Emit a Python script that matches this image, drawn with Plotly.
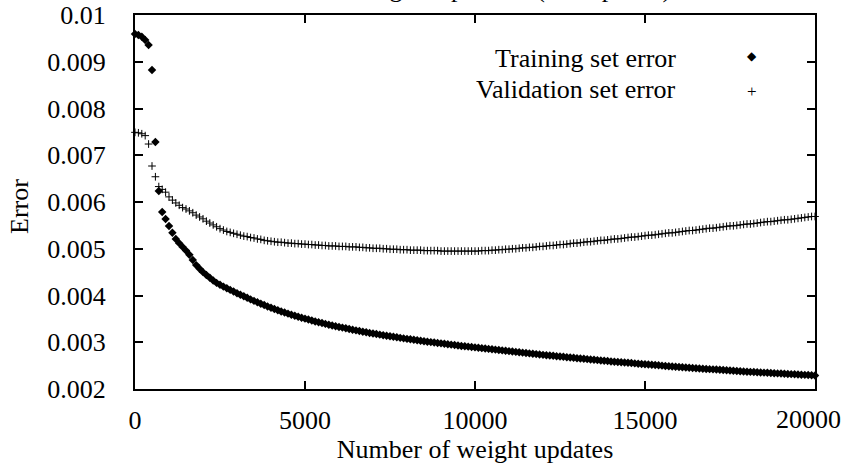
import plotly.graph_objects as go

# ---- data ----
updates = list(range(0, 20001, 100))

training_error = [
    0.009594, 0.009572, 0.009536, 0.009465, 0.009358, 0.008824, 0.007283, 0.006235, 0.005786, 0.005636,
    0.005487, 0.005344, 0.005209, 0.005120, 0.005040, 0.004960, 0.004870, 0.004760, 0.004650, 0.004570,
    0.004500, 0.004440, 0.004380, 0.004320, 0.004270, 0.004230, 0.004190, 0.004155, 0.004120, 0.004085,
    0.004050, 0.004015, 0.003983, 0.003950, 0.003917, 0.003885, 0.003855, 0.003825, 0.003795, 0.003765,
    0.003737, 0.003710, 0.003683, 0.003658, 0.003635, 0.003612, 0.003590, 0.003568, 0.003547, 0.003526,
    0.003505, 0.003485, 0.003465, 0.003446, 0.003428, 0.003410, 0.003393, 0.003376, 0.003360, 0.003344,
    0.003328, 0.003313, 0.003298, 0.003283, 0.003268, 0.003254, 0.003240, 0.003226, 0.003213, 0.003200,
    0.003187, 0.003175, 0.003163, 0.003151, 0.003139, 0.003127, 0.003116, 0.003105, 0.003094, 0.003083,
    0.003072, 0.003062, 0.003052, 0.003042, 0.003032, 0.003022, 0.003012, 0.003003, 0.002994, 0.002985,
    0.002976, 0.002967, 0.002958, 0.002949, 0.002940, 0.002931, 0.002922, 0.002914, 0.002906, 0.002898,
    0.002890, 0.002882, 0.002874, 0.002866, 0.002858, 0.002850, 0.002842, 0.002834, 0.002826, 0.002818,
    0.002810, 0.002802, 0.002794, 0.002786, 0.002778, 0.002770, 0.002762, 0.002754, 0.002746, 0.002738,
    0.002730, 0.002723, 0.002716, 0.002709, 0.002702, 0.002695, 0.002688, 0.002681, 0.002674, 0.002667,
    0.002660, 0.002653, 0.002646, 0.002639, 0.002632, 0.002625, 0.002618, 0.002611, 0.002604, 0.002597,
    0.002590, 0.002584, 0.002578, 0.002572, 0.002566, 0.002560, 0.002554, 0.002548, 0.002542, 0.002536,
    0.002530, 0.002524, 0.002518, 0.002512, 0.002506, 0.002500, 0.002494, 0.002488, 0.002482, 0.002476,
    0.002470, 0.002465, 0.002460, 0.002455, 0.002450, 0.002445, 0.002440, 0.002435, 0.002430, 0.002425,
    0.002420, 0.002415, 0.002410, 0.002405, 0.002400, 0.002395, 0.002390, 0.002385, 0.002380, 0.002375,
    0.002370, 0.002366, 0.002362, 0.002358, 0.002354, 0.002350, 0.002346, 0.002342, 0.002338, 0.002334,
    0.002330, 0.002326, 0.002322, 0.002318, 0.002314, 0.002310, 0.002306, 0.002302, 0.002298, 0.002294,
    0.002290,
]

validation_error = [
    0.00749, 0.00748, 0.00746, 0.00742, 0.00724, 0.00677, 0.00654, 0.00633, 0.00627, 0.00621,
    0.00611, 0.00604, 0.00598, 0.00593, 0.00588, 0.00585, 0.00581, 0.00577, 0.00572, 0.00568,
    0.00564, 0.00559, 0.00555, 0.00551, 0.00547, 0.00543, 0.00540, 0.00537, 0.00535, 0.00533,
    0.00531, 0.00529, 0.00527, 0.00526, 0.00524, 0.00523, 0.00521, 0.00520, 0.00518, 0.00517,
    0.00516, 0.00515, 0.00514, 0.00514, 0.00513, 0.00512, 0.00512, 0.00511, 0.00511, 0.00510,
    0.00510, 0.00509, 0.00509, 0.00508, 0.00508, 0.00507, 0.00507, 0.00506, 0.00506, 0.00506,
    0.00505, 0.00505, 0.00505, 0.00504, 0.00504, 0.00504, 0.00503, 0.00503, 0.00502, 0.00502,
    0.00501, 0.00501, 0.00501, 0.00500, 0.00500, 0.00499, 0.00499, 0.00499, 0.00498, 0.00498,
    0.00498, 0.00497, 0.00497, 0.00497, 0.00497, 0.00496, 0.00496, 0.00496, 0.00496, 0.00496,
    0.00495, 0.00495, 0.00495, 0.00495, 0.00495, 0.00495, 0.00495, 0.00495, 0.00495, 0.00495,
    0.00495, 0.00495, 0.00496, 0.00496, 0.00496, 0.00497, 0.00497, 0.00498, 0.00498, 0.00499,
    0.00499, 0.00500, 0.00500, 0.00501, 0.00502, 0.00502, 0.00503, 0.00503, 0.00504, 0.00505,
    0.00505, 0.00506, 0.00507, 0.00507, 0.00508, 0.00509, 0.00509, 0.00510, 0.00511, 0.00512,
    0.00512, 0.00513, 0.00514, 0.00515, 0.00515, 0.00516, 0.00517, 0.00518, 0.00518, 0.00519,
    0.00520, 0.00521, 0.00521, 0.00522, 0.00523, 0.00524, 0.00525, 0.00525, 0.00526, 0.00527,
    0.00528, 0.00529, 0.00529, 0.00530, 0.00531, 0.00532, 0.00533, 0.00534, 0.00534, 0.00535,
    0.00536, 0.00537, 0.00538, 0.00539, 0.00539, 0.00540, 0.00541, 0.00542, 0.00543, 0.00544,
    0.00544, 0.00545, 0.00546, 0.00547, 0.00548, 0.00549, 0.00549, 0.00550, 0.00551, 0.00552,
    0.00553, 0.00553, 0.00554, 0.00555, 0.00556, 0.00557, 0.00558, 0.00558, 0.00559, 0.00560,
    0.00561, 0.00562, 0.00562, 0.00563, 0.00564, 0.00565, 0.00566, 0.00567, 0.00568, 0.00569,
    0.00569,
]

x_tickvals = [0, 5000, 10000, 15000, 20000]
x_ticktext = ["0", "5000", "10000", "15000", "20000"]
y_tickvals = [0.002, 0.003, 0.004, 0.005, 0.006, 0.007, 0.008, 0.009, 0.01]
y_ticktext = ["0.002", "0.003", "0.004", "0.005", "0.006", "0.007", "0.008", "0.009", "0.01"]

series_names = ["Training set error", "Validation set error"]
title_text = "Effect of training sample size (500 epochs)"
x_title = "Number of weight updates"
y_title = "Error"

FONT = "Liberation Serif"
FS = 26

# plot-area geometry in pixels (for placing the text-only key and titles)
L, R, T, B = 135, 29, 15, 80
PW, PH = 844 - L - R, 469 - T - B


def px_x(px):
    return (px - L) / PW


def px_y(py):
    return 1 - (py - T) / PH


fig = go.Figure()
fig.add_trace(go.Scatter(
    x=updates, y=training_error, mode="markers", name=series_names[0],
    marker=dict(symbol="diamond", size=6.5, color="black", line=dict(width=0)),
    showlegend=False, cliponaxis=False,
))
fig.add_trace(go.Scatter(
    x=updates, y=validation_error, mode="markers", name=series_names[1],
    marker=dict(symbol="cross-thin", size=5.5, color="black",
                line=dict(width=1, color="black")),
    showlegend=False, cliponaxis=False,
))

axis_common = dict(
    showline=True, linecolor="black", linewidth=2, mirror="allticks",
    ticks="inside", ticklen=8, tickwidth=1.5, tickcolor="black",
    showgrid=False, zeroline=False, automargin=False,
    tickfont=dict(family=FONT, size=FS, color="black"),
)

# the last x label sits slightly inside the right edge (as in the reference),
# so it is drawn as an annotation anchored at its tick
x_axis_labels = x_ticktext[:-1] + [""]

fig.update_xaxes(
    range=[0, 20000], tickvals=x_tickvals, ticktext=x_axis_labels,
    ticklabelstandoff=7,
    title=dict(text=x_title, font=dict(family=FONT, size=FS, color="black"), standoff=5),
    **axis_common,
)
fig.update_yaxes(
    range=[0.002, 0.01], tickvals=y_tickvals, ticktext=y_ticktext,
    ticklabelstandoff=22,
    **axis_common,
)

annotations = [
    dict(text=x_ticktext[-1], xref="x", yref="paper", x=x_tickvals[-1], y=px_y(419),
         xanchor="right", yanchor="middle", xshift=27, showarrow=False, borderpad=0,
         font=dict(family=FONT, size=FS, color="black")),
    dict(text=title_text, xref="paper", yref="paper", x=px_x(672), y=px_y(4),
         xanchor="right", yanchor="bottom", showarrow=False, borderpad=0,
         font=dict(family=FONT, size=FS, color="black")),
    dict(text=y_title, xref="paper", yref="paper", x=px_x(19), y=px_y(207),
         xanchor="center", yanchor="middle", textangle=-90, showarrow=False, borderpad=0,
         font=dict(family=FONT, size=FS, color="black")),
    dict(text=series_names[0], xref="paper", yref="paper", x=px_x(677), y=px_y(58),
         xanchor="right", yanchor="middle", showarrow=False, borderpad=0,
         font=dict(family=FONT, size=FS, color="black")),
    dict(text=series_names[1], xref="paper", yref="paper", x=px_x(677), y=px_y(89),
         xanchor="right", yanchor="middle", showarrow=False, borderpad=0,
         font=dict(family=FONT, size=FS, color="black")),
    dict(text="\u25C6", xref="paper", yref="paper", x=px_x(752), y=px_y(56),
         xanchor="center", yanchor="middle", showarrow=False, borderpad=0,
         font=dict(family="DejaVu Sans", size=12, color="black")),
    dict(text="+", xref="paper", yref="paper", x=px_x(752), y=px_y(91),
         xanchor="center", yanchor="middle", showarrow=False, borderpad=0,
         font=dict(family=FONT, size=17, color="black")),
]

fig.update_layout(
    template="none",
    width=844, height=469,
    margin=dict(l=L, r=R, t=T, b=B, pad=0),
    paper_bgcolor="white", plot_bgcolor="white",
    font=dict(family=FONT, size=FS, color="black"),
    annotations=annotations,
    showlegend=False,
)

fig.write_html("out.html", config={"displayModeBar": False},
               post_script="document.body.style.margin='0';")
